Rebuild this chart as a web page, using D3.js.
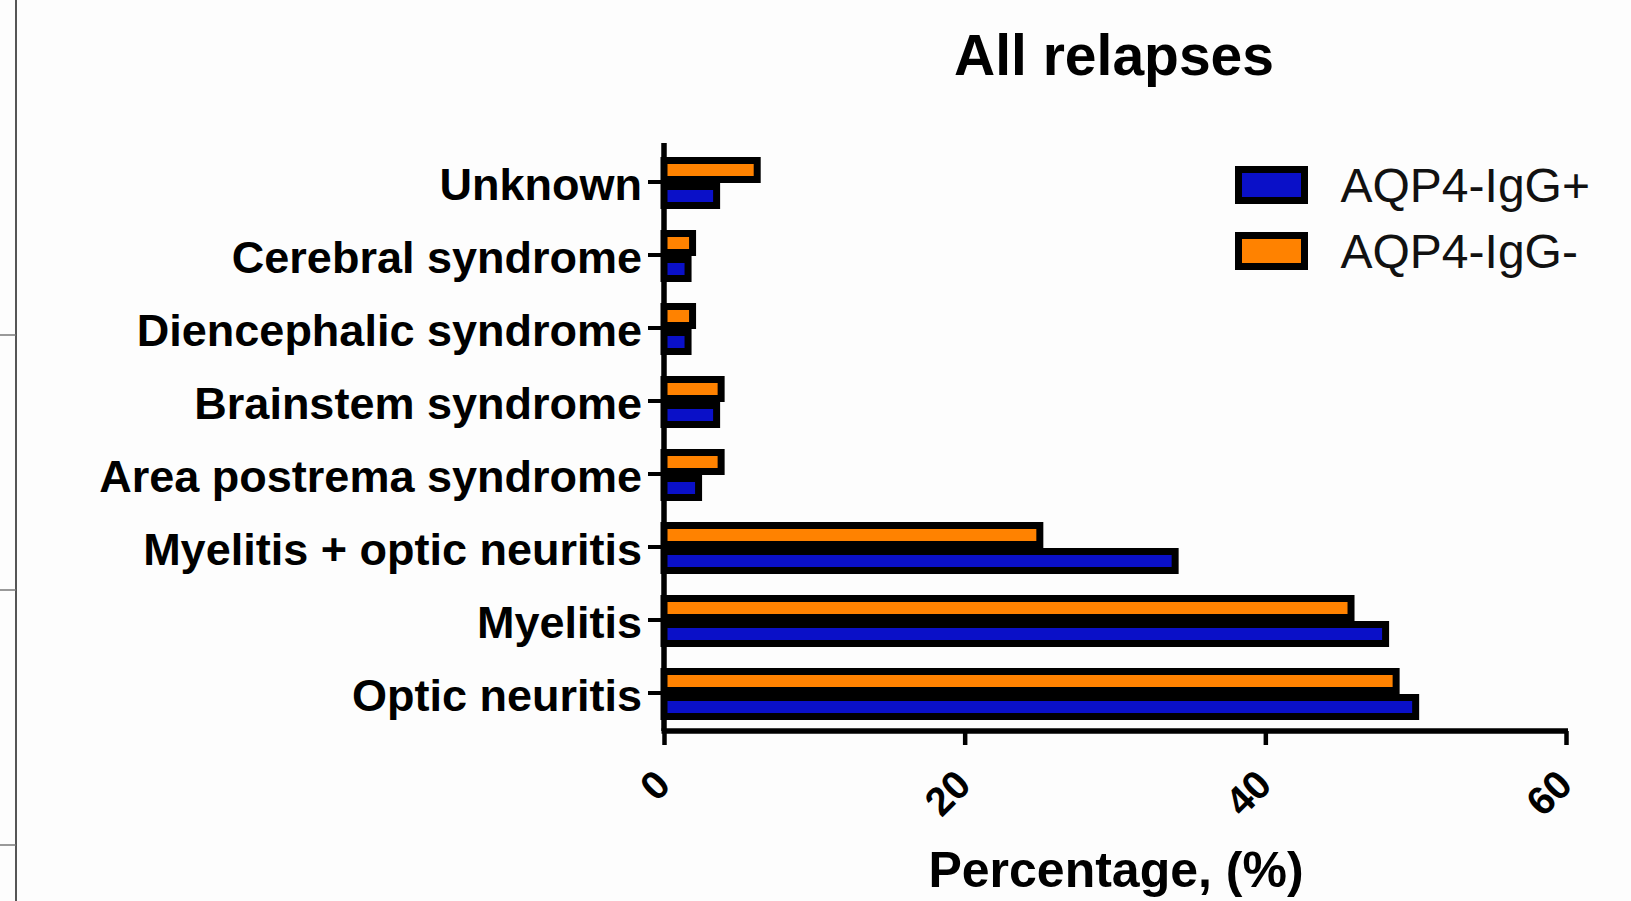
<!DOCTYPE html>
<html>
<head>
<meta charset="utf-8">
<script src="https://cdnjs.cloudflare.com/ajax/libs/d3/7.8.5/d3.min.js"></script>
<style>
  html, body { margin: 0; padding: 0; background: #fdfdfd; }
  svg { display: block; font-family: "Liberation Sans", Arial, Helvetica, sans-serif; }
</style>
</head>
<body>
<div id="chart"></div>
<script>
// Categories, top to bottom as drawn
const categories = [
    'Unknown',
    'Cerebral syndrome',
    'Diencephalic syndrome',
    'Brainstem syndrome',
    'Area postrema syndrome',
    'Myelitis + optic neuritis',
    'Myelitis',
    'Optic neuritis'
];
const seriesNames = ['AQP4-IgG+', 'AQP4-IgG-'];
const positiveValues = [3.5, 1.6, 1.6, 3.5, 2.3, 34.0, 48.0, 50.0];
const negativeValues = [6.2, 1.9, 1.9, 3.8, 3.8, 25.0, 45.7, 48.7];
const xTicks = [0, 20, 40, 60];

const colors = { 'AQP4-IgG+': '#0a10c8', 'AQP4-IgG-': '#ff8200' };

const width = 1631, height = 901;
const svg = d3.select('#chart').append('svg')
    .attr('width', width)
    .attr('height', height);

// page-edge artefacts on the left
svg.append('line').attr('x1', 16).attr('x2', 16).attr('y1', 0).attr('y2', height)
    .attr('stroke', '#555').attr('stroke-width', 2);
[335, 590, 845].forEach(yy => {
    svg.append('line').attr('x1', 0).attr('x2', 16).attr('y1', yy).attr('y2', yy)
        .attr('stroke', '#777').attr('stroke-width', 1.5);
});

const x = d3.scaleLinear().domain([0, 60]).range([664, 1566]);
const y = d3.scaleBand().domain(categories).range([145.5, 729.5]).padding(0);
// orange (IgG-) sits above blue (IgG+)
const y1 = d3.scaleBand().domain(['AQP4-IgG-', 'AQP4-IgG+']).range([-25, 27]);

const stroke = 7;
const rows = categories.map((c, i) => ({
    category: c,
    values: [
        { key: 'AQP4-IgG-', value: negativeValues[i] },
        { key: 'AQP4-IgG+', value: positiveValues[i] }
    ]
}));

const groups = svg.append('g').selectAll('g')
    .data(rows)
    .enter().append('g')
    .attr('transform', d => `translate(0,${y(d.category) + y.bandwidth() / 2})`);

groups.selectAll('rect')
    .data(d => d.values)
    .enter().append('rect')
    .attr('x', x(0))
    .attr('y', d => y1(d.key) + stroke / 2)
    .attr('width', d => x(d.value) - x(0))
    .attr('height', y1.bandwidth() - stroke)
    .attr('fill', d => colors[d.key])
    .attr('stroke', '#000')
    .attr('stroke-width', stroke);

// Y axis
const yAxis = svg.append('g')
    .attr('transform', `translate(${x(0)},0)`)
    .call(d3.axisLeft(y).tickSize(16).tickSizeOuter(0).tickPadding(6));
yAxis.select('.domain').remove();
yAxis.selectAll('.tick line').attr('stroke', '#000').attr('stroke-width', 4);
yAxis.selectAll('.tick text')
    .attr('fill', '#000')
    .attr('dy', '0.4em')
    .style('font-size', '45px')
    .style('font-weight', 'bold');

svg.append('line')
    .attr('x1', x(0)).attr('x2', x(0))
    .attr('y1', 143).attr('y2', 731)
    .attr('stroke', '#000').attr('stroke-width', 5.5);

// X axis
const xAxis = svg.append('g')
    .attr('transform', 'translate(0,731)')
    .call(d3.axisBottom(x).tickValues(xTicks).tickSize(14).tickSizeOuter(0));
xAxis.select('.domain').remove();
xAxis.selectAll('.tick line').attr('stroke', '#000').attr('stroke-width', 4.5);
xAxis.selectAll('.tick text')
    .attr('fill', '#000')
    .attr('x', 0).attr('y', 0).attr('dy', '0.35em')
    .attr('transform', 'translate(-2,46) rotate(-45)')
    .attr('text-anchor', 'end')
    .style('font-size', '40px')
    .style('font-weight', 'bold');

svg.append('line')
    .attr('x1', x(0) - 2.5).attr('x2', x(60) + 2)
    .attr('y1', 731).attr('y2', 731)
    .attr('stroke', '#000').attr('stroke-width', 5.5);

// Title and axis label
svg.append('text')
    .attr('x', 1114).attr('y', 75)
    .attr('text-anchor', 'middle')
    .style('font-size', '57px').style('font-weight', 'bold')
    .text('All relapses');

svg.append('text')
    .attr('x', 1116).attr('y', 887)
    .attr('text-anchor', 'middle')
    .style('font-size', '50px').style('font-weight', 'bold')
    .text('Percentage, (%)');

// Legend
const legend = svg.append('g').attr('transform', 'translate(1238.5,169.5)');
seriesNames.forEach((name, i) => {
    const row = legend.append('g').attr('transform', `translate(0,${i * 66})`);
    row.append('rect')
        .attr('width', 66).attr('height', 31)
        .attr('fill', colors[name])
        .attr('stroke', '#000').attr('stroke-width', stroke);
    row.append('text')
        .attr('x', 102).attr('y', 32)
        .style('font-size', '48px')
        .attr('fill', '#111')
        .text(name);
});
</script>
</body>
</html>
